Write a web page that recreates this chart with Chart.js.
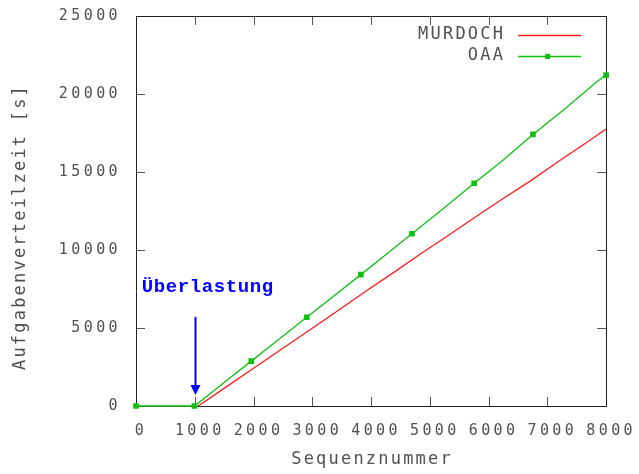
<!DOCTYPE html>
<html lang="de">
<head>
<meta charset="utf-8">
<title>Aufgabenverteilzeit</title>
<script src="https://cdn.jsdelivr.net/npm/chart.js@4/dist/chart.umd.min.js"></script>
<style>
  html, body { margin: 0; padding: 0; background: #fff; }
  #wrap { width: 639px; height: 474px; }
</style>
</head>
<body>
<div id="wrap"><canvas id="chart"></canvas></div>
<script>
// ── Data ─────────────────────────────────────────────────────────────────────

const MURDOCH_SEQ = [1060, 1500, 2000, 2500, 3000, 3500, 3935, 4400, 4844, 5300, 5750, 6209, 6700, 7200, 7600, 8000];
const MURDOCH_T   = [0, 1130, 2420, 3700, 4980, 6280, 7417, 8600, 9763, 10900, 12050, 13200, 14400, 15700, 16720, 17755];

const OAA_SEQ = [0, 995, 1250, 1500, 1962, 2400, 2905, 3350, 3826, 4250, 4696, 5200, 5754, 6209, 6755, 7300, 7858, 8000];
const OAA_T   = [0, 0, 760, 1500, 2877, 4180, 5691, 7010, 8421, 9700, 11042, 12560, 14277, 15640, 17410, 19050, 20840, 21208];
// samples of the OAA series that carry a point symbol
const OAA_MARKED = [0, 1, 4, 6, 8, 10, 12, 14, 17];

const X_TICKS = [0, 1000, 2000, 3000, 4000, 5000, 6000, 7000, 8000];
const Y_TICKS = [0, 5000, 10000, 15000, 20000, 25000];

const X_TITLE = 'Sequenznummer';
const Y_TITLE = 'Aufgabenverteilzeit [s]';

// overload marker: arrow at seq 1000, label to its upper left
const NOTE_TEXT = 'Überlastung';
const NOTE_AT   = { x: 97, y: 7640 };
const ARROW     = { x: 1000, from: 5710, to: 700 };

// ── Helpers ──────────────────────────────────────────────────────────────────

const MONO = '"DejaVu Sans Mono", "Liberation Mono", monospace';
const INK = '#505050';
const RED = '#ff1a1a';
const GREEN = '#10c010';
const BLUE = '#0000ff';

const pairs = (xs, ys) => xs.map((x, i) => ({ x, y: ys[i] }));

// wide gnuplot-style lettering
function spaced(ctx, px) {
  if ('letterSpacing' in ctx) ctx.letterSpacing = px + 'px';
}

// ── Frame, mirrored ticks, legend, titles, note ──────────────────────────────

const decor = {
  id: 'decor',
  beforeLayout(chart) { spaced(chart.ctx, 3.4); },
  beforeDraw(chart) { spaced(chart.ctx, 3.4); },
  beforeDatasetsDraw(chart) {
    const { ctx, chartArea: a, scales: { x, y } } = chart;
    ctx.save();
    ctx.strokeStyle = '#555';
    ctx.lineWidth = 1;
    ctx.beginPath();
    X_TICKS.forEach(v => {
      const px = Math.round(x.getPixelForValue(v)) + 0.5;
      ctx.moveTo(px, a.bottom); ctx.lineTo(px, a.bottom - 9);
      ctx.moveTo(px, a.top); ctx.lineTo(px, a.top + 9);
    });
    Y_TICKS.forEach(v => {
      const py = Math.round(y.getPixelForValue(v)) + 0.5;
      ctx.moveTo(a.left, py); ctx.lineTo(a.left + 9, py);
      ctx.moveTo(a.right, py); ctx.lineTo(a.right - 9, py);
    });
    ctx.stroke();
    ctx.strokeStyle = '#222';
    ctx.strokeRect(Math.round(a.left) + 0.5, Math.round(a.top) + 0.5,
                   Math.round(a.right - a.left), Math.round(a.bottom - a.top));
    ctx.restore();
  },
  afterDraw(chart) {
    const { ctx, chartArea: a, scales: { x, y } } = chart;
    ctx.save();

    // axis titles
    spaced(ctx, 2.2);
    ctx.fillStyle = INK;
    ctx.font = '17px ' + MONO;
    ctx.textAlign = 'center';
    ctx.textBaseline = 'middle';
    ctx.fillText(X_TITLE, (a.left + a.right) / 2 + 1, 460);
    ctx.save();
    ctx.translate(21, (a.top + a.bottom) / 2 + 16);
    ctx.rotate(-Math.PI / 2);
    ctx.fillText(Y_TITLE, 0, 0);
    ctx.restore();

    // legend, top right inside the frame
    ctx.textAlign = 'right';
    chart.data.datasets.forEach((ds, i) => {
      const ly = a.top + 19 + i * 21;
      ctx.fillStyle = INK;
      ctx.fillText(ds.label, a.right - 101, ly);
      ctx.strokeStyle = ds.borderColor;
      ctx.lineWidth = 1.3;
      ctx.beginPath();
      ctx.moveTo(a.right - 88, Math.round(ly) + 0.5);
      ctx.lineTo(a.right - 25, Math.round(ly) + 0.5);
      ctx.stroke();
      if (ds.legendMark) {
        ctx.fillStyle = ds.borderColor;
        ctx.fillRect(a.right - 61, Math.round(ly) - 2, 5, 5);
      }
    });

    // overload note and arrow
    spaced(ctx, 0.6);
    ctx.fillStyle = BLUE;
    ctx.font = 'bold 19px "Liberation Mono", "DejaVu Sans Mono", monospace';
    ctx.textAlign = 'left';
    ctx.fillText(NOTE_TEXT, x.getPixelForValue(NOTE_AT.x), y.getPixelForValue(NOTE_AT.y));

    const ax = Math.round(x.getPixelForValue(ARROW.x)) + 0.5;
    const y0 = y.getPixelForValue(ARROW.from);
    const y1 = y.getPixelForValue(ARROW.to);
    ctx.strokeStyle = BLUE;
    ctx.lineWidth = 2;
    ctx.beginPath();
    ctx.moveTo(ax, y0);
    ctx.lineTo(ax, y1 - 8);
    ctx.stroke();
    ctx.beginPath();
    ctx.moveTo(ax - 5, y1 - 10);
    ctx.lineTo(ax + 5, y1 - 10);
    ctx.lineTo(ax, y1);
    ctx.closePath();
    ctx.fill();

    ctx.restore();
  },
};

// ── Chart ────────────────────────────────────────────────────────────────────

const tickFont = { family: MONO, size: 15 };

new Chart(document.getElementById('chart'), {
  type: 'line',
  data: {
    datasets: [
      {
        label: 'MURDOCH',
        data: pairs(MURDOCH_SEQ, MURDOCH_T),
        borderColor: RED,
        borderWidth: 1.3,
        pointRadius: 0,
        tension: 0,
        clip: 8,
      },
      {
        label: 'OAA',
        data: pairs(OAA_SEQ, OAA_T),
        borderColor: GREEN,
        backgroundColor: GREEN,
        borderWidth: 1.3,
        pointStyle: 'rect',
        pointRadius: c => (OAA_MARKED.includes(c.dataIndex) ? 4 : 0),
        pointBorderWidth: 0,
        tension: 0,
        clip: 8,
        legendMark: true,
      },
    ],
  },
  options: {
    responsive: true,
    maintainAspectRatio: false,
    animation: false,
    layout: { padding: { top: 8, right: 29, left: 0, bottom: 0 } },
    plugins: { legend: { display: false }, tooltip: { enabled: false } },
    scales: {
      x: {
        type: 'linear',
        min: 0,
        max: 8000,
        afterBuildTicks: s => { s.ticks = X_TICKS.map(value => ({ value })); },
        afterFit: s => { s.height = 68; },
        grid: { display: false },
        border: { display: false },
        ticks: {
          font: tickFont,
          color: INK,
          padding: 8,
          labelOffset: 5,
          maxRotation: 0,
          autoSkip: false,
          callback: v => String(v),
        },
      },
      y: {
        type: 'linear',
        min: 0,
        max: 25000,
        afterBuildTicks: s => { s.ticks = Y_TICKS.map(value => ({ value })); },
        afterFit: s => { s.width = 136; },
        grid: { display: false },
        border: { display: false },
        ticks: {
          font: tickFont,
          color: INK,
          padding: 7,
          callback: v => String(v),
        },
      },
    },
  },
  plugins: [decor],
});
</script>
</body>
</html>
